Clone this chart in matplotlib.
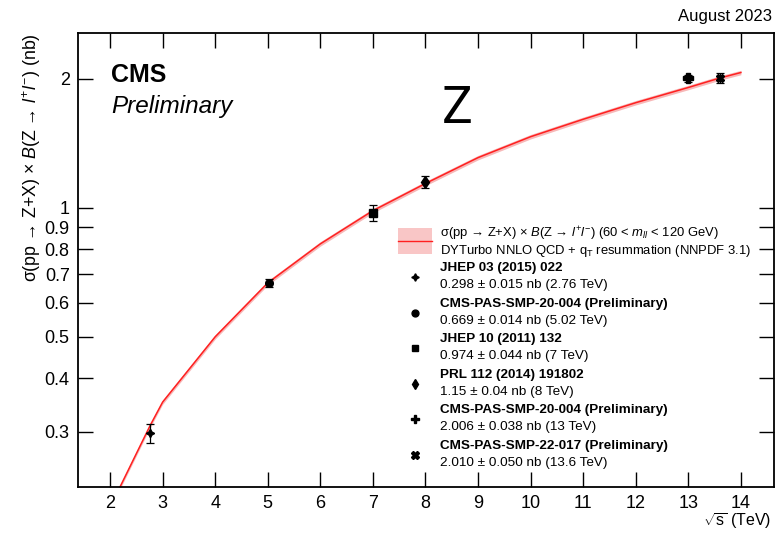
import matplotlib.pyplot as plt
import numpy as np

plt.rcParams['font.family'] = ['Liberation Sans', 'DejaVu Sans']
plt.rcParams['mathtext.fontset'] = 'custom'
plt.rcParams['mathtext.rm'] = 'Liberation Sans'
plt.rcParams['mathtext.it'] = 'Liberation Sans:italic'

# DYTurbo NNLO prediction
theory_sqrts = [2.0, 2.76, 3, 4, 5, 6, 7, 8, 9, 10, 11, 12, 13, 13.6, 14]
theory_xsec = [0.20, 0.31, 0.352, 0.50, 0.668, 0.824, 0.985, 1.14, 1.31,
               1.466, 1.61, 1.76, 1.91, 2.01, 2.07]
theory_relunc = 0.012

# measurements
meas_sqrts = [2.76, 5.02, 7, 8, 13, 13.6]
meas_xsec = [0.298, 0.669, 0.974, 1.15, 2.006, 2.010]
meas_err = [0.015, 0.014, 0.044, 0.04, 0.038, 0.050]
meas_ref = ["JHEP 03 (2015) 022", "CMS-PAS-SMP-20-004 (Preliminary)",
            "JHEP 10 (2011) 132", "PRL 112 (2014) 191802",
            "CMS-PAS-SMP-20-004 (Preliminary)",
            "CMS-PAS-SMP-22-017 (Preliminary)"]
meas_ndec = [3, 3, 3, 2, 3, 3]
meas_sqrts_label = ["2.76", "5.02", "7", "8", "13", "13.6"]
markers = [(4, 1, 0), "o", "s", "d", "P", "X"]
msizes = [6, 5.5, 5.5, 6, 6.5, 6]

W, H = 781, 533
fig = plt.figure(figsize=(W / 100, H / 100), dpi=100)
ax = fig.add_axes([78 / W, 1 - 487 / H, (774 - 78) / W, (487 - 33) / H])


def fx(px):
    return px / W


def fy(py):
    return 1 - py / H


th = np.array(theory_xsec)
ax.fill_between(theory_sqrts, th * (1 - theory_relunc), th * (1 + theory_relunc),
                color="#f7b8b8", lw=0, zorder=1)
ax.plot(theory_sqrts, th, color="#ff2020", lw=1.1, zorder=2)

for i in range(len(meas_sqrts)):
    ax.errorbar(meas_sqrts[i], meas_xsec[i], yerr=meas_err[i], fmt="none",
                ecolor="black", elinewidth=0.9, capsize=3, capthick=0.9, zorder=3)
    ax.plot(meas_sqrts[i], meas_xsec[i], marker=markers[i], ms=msizes[i],
            color="black", ls="none", zorder=4)

ax.set_yscale("log")
ax.set_xlim(1.39, 14.63)
ax.set_ylim(0.223, 2.56)
ax.set_xticks(range(2, 15))
yt = [0.3, 0.4, 0.5, 0.6, 0.7, 0.8, 0.9, 1, 2]
ax.set_yticks(yt)
ax.set_yticklabels(["%g" % v for v in yt])
ax.yaxis.set_minor_locator(plt.NullLocator())
ax.tick_params(axis="both", which="major", direction="in", top=True, right=True,
               labelsize=13, length=11, width=1.0, pad=6)
for s in ax.spines.values():
    s.set_linewidth(1.3)

ax.set_ylabel(r"σ(pp → Z+X) × $B$(Z → $l^{+}l^{-}$) (nb)", fontsize=12.8,
              loc="top", labelpad=1)
fig.text(fx(771), fy(521), r"$\sqrt{\mathrm{s}}$ (TeV)", fontsize=11.5,
         ha="right", va="center")

fig.text(fx(111), fy(75), "CMS", fontsize=18, fontweight="bold", va="center")
fig.text(fx(111), fy(107), "Preliminary", fontsize=17.5, style="italic", va="center")
fig.text(fx(457), fy(109), "Z", fontsize=37, va="center", ha="center",
         family="Roboto", fontweight="normal")
fig.text(fx(772), fy(17), "August 2023", fontsize=12, ha="right", va="center")

# legend, drawn by hand in figure pixels
lx_mark, lx_text = 415, 440
fig.patches.append(plt.Rectangle((fx(398), fy(254)), fx(432) - fx(398), fy(228) - fy(254),
                                 transform=fig.transFigure, color="#f9c6c6", lw=0))
fig.lines.append(plt.Line2D([fx(398), fx(432)], [fy(241), fy(241)],
                            transform=fig.transFigure, color="#ff2020", lw=1))
fig.text(fx(lx_text), fy(233.5),
         r"σ(pp → Z+X) × $B$(Z → $l^{+}l^{-}$) (60 < $m_{ll}$ < 120 GeV)",
         fontsize=9.4, va="center")
fig.text(fx(lx_text), fy(251), r"DYTurbo NNLO QCD + $\mathrm{q_{T}}$ resummation (NNPDF 3.1)",
         fontsize=9.4, va="center")

for i in range(len(meas_sqrts)):
    yb = 268 + 35.6 * i
    fig.text(fx(lx_text), fy(yb), meas_ref[i], fontsize=9.7, fontweight="bold", va="center")
    n = meas_ndec[i]
    val = "%.*f ± %.*f" % (n, meas_xsec[i], n, meas_err[i])
    fig.text(fx(lx_text), fy(yb + 17), val + " nb (" + meas_sqrts_label[i] + " TeV)",
             fontsize=9.7, va="center")
    fig.lines.append(plt.Line2D([fx(lx_mark)], [fy(yb + 9)], transform=fig.transFigure,
                                marker=markers[i], ms=msizes[i] * 0.9, color="black", ls="none"))

fig.savefig("out.png", dpi=100)
